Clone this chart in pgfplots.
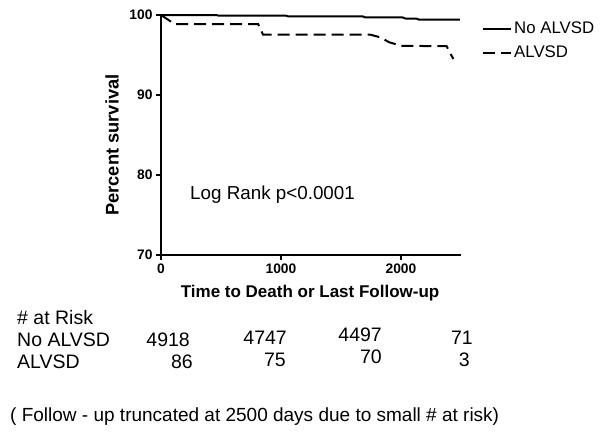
\documentclass[border=0pt]{standalone}
\usepackage{pgfplots}
\pgfplotsset{compat=1.18}
\usepackage{fontspec}
\setmainfont{Liberation Sans}
\newcommand{\fs}[1]{\fontsize{#1}{#1}\selectfont}
\begin{document}
\begin{tikzpicture}
\useasboundingbox (-161pt,-177pt) rectangle (439pt,255pt);
\begin{axis}[
  scale only axis, width=300pt, height=240pt,
  xmin=0, xmax=2500, ymin=70, ymax=100,
  axis x line*=bottom, axis y line*=left,
  axis line style={line width=2pt, -},
  xtick={0,1000,2000}, ytick={70,80,90,100},
  tick align=outside, major tick length=5pt,
  tick style={line width=2pt, black},
  tick label style={font=\fs{13.8}\bfseries},
  /pgf/number format/assume math mode=true,
  /pgf/number format/1000 sep={},
  xlabel={Time to Death or Last Follow-up},
  ylabel={Percent survival},
  xlabel style={font=\fs{17}\bfseries, at={(axis description cs:0.497,-0.158)}, anchor=center},
  ylabel style={font=\fs{18.3}\bfseries, at={(axis description cs:-0.163,0.458)}, anchor=center},
  clip=false,
  legend style={at={(axis description cs:1.07,0.98)}, anchor=north west, draw=none, fill=none,
    font=\fs{16.8}, inner sep=0pt, row sep=7pt},
  legend cell align=left,
  legend image code/.code={\draw[#1] (0pt,0pt) -- (28pt,0pt);},
]
\addplot[black, line width=2pt] coordinates {
 (0,100) (460,100) (480,99.92) (1040,99.92) (1060,99.83) (1680,99.83) (1700,99.71)
 (2010,99.71) (2040,99.55) (2130,99.55) (2150,99.42) (2490,99.42)};
\addlegendentry{No ALVSD}
\addplot[black, line width=2pt, dash pattern=on 12pt off 6pt] coordinates {
 (0,100) (115,98.85) (810,98.85) (850,97.55) (1742,97.55) (1830,97.2) (1900,96.6)
 (2000,96.15) (2380,96.1) (2436,94.5)};
\addlegendentry{ALVSD}
\node[anchor=west, inner sep=0pt, font=\fs{18.8}] at (axis cs:242,77.5) {Log Rank p<0.0001};
\end{axis}
\begin{scope}[every node/.style={inner sep=0pt, font=\fs{19.5}}]
\node[anchor=west] at (-144pt,-63pt) {\# at Risk};
\node[anchor=west] at (-144pt,-85pt) {No ALVSD};
\node[anchor=west] at (-144pt,-107pt) {ALVSD};
\node[anchor=east] at (29pt,-85pt) {4918};
\node[anchor=east] at (126pt,-83pt) {4747};
\node[anchor=east] at (221pt,-80pt) {4497};
\node[anchor=east] at (312pt,-83pt) {71};
\node[anchor=east] at (32pt,-107pt) {86};
\node[anchor=east] at (125pt,-105pt) {75};
\node[anchor=east] at (221pt,-102pt) {70};
\node[anchor=east] at (309pt,-105pt) {3};
\node[anchor=west, font=\fs{19}] at (-151pt,-162pt) {( Follow - up truncated at 2500 days due to small \# at risk)};
\end{scope}
\end{tikzpicture}
\end{document}
